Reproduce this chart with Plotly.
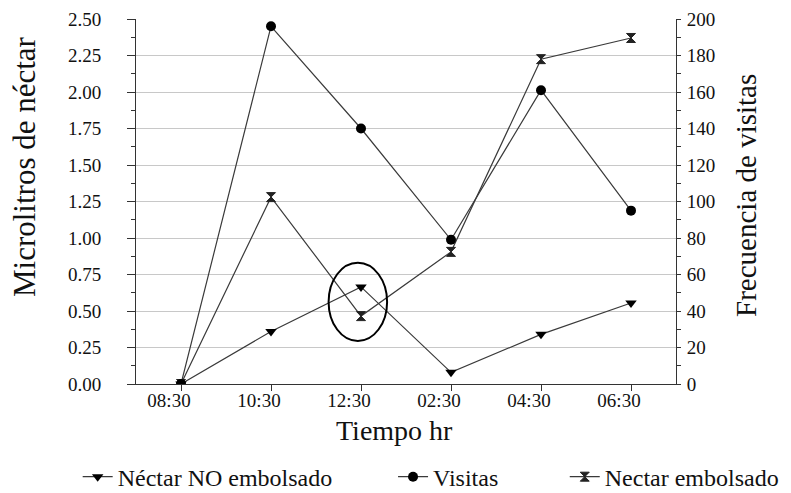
import plotly.graph_objects as go

# Hora de muestreo
horas = ["08:30", "10:30", "12:30", "02:30", "04:30", "06:30"]

# Microlitros de néctar (eje izquierdo)
nectar_no_embolsado = [0.0, 0.36, 0.665, 0.08, 0.34, 0.555]
nectar_embolsado = [0.0, 1.28, 0.465, 0.905, 2.225, 2.37]

# Frecuencia de visitas (eje derecho)
visitas = [0, 196, 140, 79, 161, 95]

# Elipse que resalta el cruce de las 12:30 (índice de categoría, µl)
resalte = dict(x0=1.64, x1=2.29, y0=0.295, y1=0.83)

FONT = "Liberation Serif"
INK = "#111111"
AXIS = "#333333"
LINE = "#3a3a3a"
GRID = "#c8c8c8"

fig = go.Figure()

fig.add_trace(go.Scatter(
    x=horas, y=nectar_no_embolsado, name="Néctar NO embolsado",
    mode="lines+markers",
    line=dict(color=LINE, width=1.2),
    marker=dict(symbol="triangle-down", size=10, color="#000000"),
    legend="legend",
))
fig.add_trace(go.Scatter(
    x=horas, y=visitas, name="Visitas", yaxis="y2",
    mode="lines+markers",
    line=dict(color=LINE, width=1.2),
    marker=dict(symbol="circle", size=10, color="#000000"),
    legend="legend2",
))
fig.add_trace(go.Scatter(
    x=horas, y=nectar_embolsado, name="Nectar embolsado",
    mode="lines+markers",
    line=dict(color=LINE, width=1.2),
    marker=dict(symbol="hourglass", size=9, color="#222222",
                line=dict(color="#222222", width=1)),
    legend="legend3",
))

fig.add_shape(type="circle", xref="x", yref="y", layer="above",
              line=dict(color="#000000", width=2), **resalte)

tickfont = dict(family=FONT, size=19, color=INK)
legfont = dict(family=FONT, size=24, color=INK)

legend_common = dict(orientation="h", yanchor="middle", y=-0.255,
                     xanchor="left", font=legfont, bgcolor="rgba(0,0,0,0)",
                     borderwidth=0)

fig.update_layout(
    width=791, height=493,
    margin=dict(l=136, r=115, t=19, b=109, autoexpand=False),
    paper_bgcolor="white", plot_bgcolor="white",
    font=dict(family=FONT, color=INK),
    showlegend=True,
    xaxis=dict(
        type="category", range=[-0.5, 5.5],
        showline=True, linecolor=AXIS, linewidth=1,
        ticks="outside", ticklen=6, tickcolor=AXIS,
        showgrid=False, zeroline=False,
        tickfont=tickfont, ticklabelshift=-12, ticklabelstandoff=-7,
    ),
    xaxis2=dict(
        overlaying="x", anchor="y", side="bottom",
        range=[-0.5, 5.5], tick0=0, dtick=1,
        ticks="inside", ticklen=6, tickcolor=AXIS,
        showticklabels=False, showgrid=False, zeroline=False, showline=False,
    ),
    yaxis=dict(
        range=[0, 2.5], tick0=0, dtick=0.25, tickformat=".2f",
        showline=True, linecolor=AXIS, linewidth=1,
        ticks="outside", ticklen=8, tickcolor=AXIS,
        showgrid=True, gridcolor=GRID, gridwidth=1, zeroline=False,
        tickfont=tickfont, ticklabelstandoff=22,
        minor=dict(ticks="outside", ticklen=4, dtick=0.125, tickcolor=AXIS,
                   showgrid=False),
    ),
    yaxis3=dict(
        overlaying="y", anchor="x", side="left",
        range=[0, 2.5], tick0=0, dtick=0.25,
        ticks="inside", ticklen=34, tickcolor="#555555",
        showticklabels=False, showgrid=False, zeroline=False, showline=False,
        minor=dict(ticks="inside", ticklen=4, dtick=0.125, tickcolor=AXIS,
                   showgrid=False),
    ),
    yaxis2=dict(
        overlaying="y", anchor="x", side="right",
        range=[0, 200], tick0=0, dtick=20,
        showline=True, linecolor=AXIS, linewidth=1,
        ticks="outside", ticklen=4, tickcolor=AXIS,
        showgrid=False, zeroline=False,
        tickfont=tickfont, ticklabelstandoff=2,
        minor=dict(ticks="outside", ticklen=4, dtick=10, tickcolor=AXIS,
                   showgrid=False),
    ),
    yaxis4=dict(
        overlaying="y", anchor="x", side="right",
        range=[0, 200], tick0=0, dtick=20,
        ticks="inside", ticklen=33, tickcolor="#555555",
        showticklabels=False, showgrid=False, zeroline=False, showline=False,
        minor=dict(ticks="inside", ticklen=4, dtick=10, tickcolor=AXIS,
                   showgrid=False),
    ),
    legend=dict(x=-0.108, **legend_common),
    legend2=dict(x=0.476, **legend_common),
    legend3=dict(x=0.794, **legend_common),
    annotations=[
        dict(text="Microlitros de néctar", textangle=-90,
             xref="paper", yref="paper", x=-0.2074, y=0.5945,
             xanchor="center", yanchor="middle", showarrow=False,
             font=dict(family=FONT, size=31, color=INK)),
        dict(text="Frecuencia de visitas", textangle=-90,
             xref="paper", yref="paper", x=1.1296, y=0.518,
             xanchor="center", yanchor="middle", showarrow=False,
             font=dict(family=FONT, size=29, color=INK)),
        dict(text="Tiempo hr",
             xref="paper", yref="paper", x=0.478, y=-0.128,
             xanchor="center", yanchor="middle", showarrow=False,
             font=dict(family=FONT, size=28, color=INK)),
    ],
)

fig.write_html("out.html")
